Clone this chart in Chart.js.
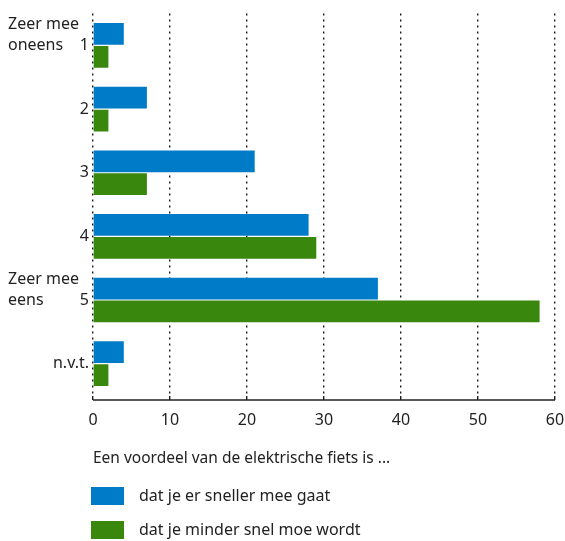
<!DOCTYPE html>
<html>
<head>
<meta charset="utf-8">
<script src="https://cdn.jsdelivr.net/npm/chart.js@4.4.1/dist/chart.umd.min.js"></script>
<style>
    html, body { margin: 0; padding: 0; background: #fff; }
    #wrap { width: 565px; height: 541px; position: relative; }
</style>
</head>
<body>
<div id="wrap"><canvas id="fietsChart"></canvas></div>
<script>
// ============================================
// Data
// ============================================
const categories = ["1", "2", "3", "4", "5", "n.v.t."];
const sideLabels = [["Zeer mee", "oneens"], null, null, null, ["Zeer mee", "eens"], null];
const snellerValues = [4, 7, 21, 28, 37, 4];
const minderMoeValues = [2, 2, 7, 29, 58, 2];
const seriesLabels = ["dat je er sneller mee gaat", "dat je minder snel moe wordt"];
const xTicks = [0, 10, 20, 30, 40, 50, 60];
const axisTitle = "Een voordeel van de elektrische fiets is ...";

const FONT = "'Noto Sans', sans-serif";
const TEXT = "#222";
const TICK_LEN = 4.5;

// --- Plugin: x-as lijn, linker labels (Zeer mee oneens / eens) + legenda ---
const extraText = {
    id: "extraText",
    afterDraw(chart) {
        const ctx = chart.ctx;
        const area = chart.chartArea;
        const yScale = chart.scales.y;
        ctx.save();

        // x-as lijn onder de korte tick-streepjes
        ctx.strokeStyle = "#222";
        ctx.lineWidth = 1.5;
        ctx.beginPath();
        ctx.moveTo(area.left, area.bottom + TICK_LEN);
        ctx.lineTo(area.right, area.bottom + TICK_LEN);
        ctx.stroke();

        ctx.font = "16px " + FONT;
        ctx.fillStyle = TEXT;
        ctx.textAlign = "left";
        ctx.textBaseline = "middle";
        sideLabels.forEach((lines, i) => {
            if (!lines) return;
            const yc = yScale.getPixelForValue(i);
            lines.forEach((t, k) => {
                ctx.fillText(t, 8, yc - (lines.length - 1 - k) * 21);
            });
        });

        // legenda
        chart.data.datasets.forEach((ds, i) => {
            const top = 487 + i * 34;
            ctx.fillStyle = ds.backgroundColor;
            ctx.fillRect(91, top, 33, 18);
            ctx.fillStyle = TEXT;
            ctx.fillText(ds.label, 139, top + 9);
        });
        ctx.restore();
    },
};

new Chart(document.getElementById("fietsChart"), {
    type: "bar",
    data: {
        labels: categories,
        datasets: [
            {
                label: seriesLabels[0],
                data: snellerValues,
                backgroundColor: "#007bc7",
                barPercentage: 0.95,
                categoryPercentage: 0.72,
            },
            {
                label: seriesLabels[1],
                data: minderMoeValues,
                backgroundColor: "#39870c",
                barPercentage: 0.95,
                categoryPercentage: 0.72,
            },
        ],
    },
    options: {
        indexAxis: "y",
        responsive: true,
        maintainAspectRatio: false,
        animation: false,
        layout: { padding: { top: 10.5, right: 0, left: 0, bottom: 69 } },
        plugins: {
            legend: { display: false },
            tooltip: { enabled: false },
        },
        scales: {
            x: {
                min: 0,
                max: 60,
                afterBuildTicks: (scale) => {
                    scale.ticks = xTicks.map((v) => ({ value: v }));
                },
                afterFit: (scale) => {
                    scale.height = 76.5;
                    scale.paddingRight = 10;
                    scale.paddingLeft = 0;
                },
                grid: {
                    color: "#1a1a1a",
                    lineWidth: 1.4,
                    drawTicks: true,
                    tickLength: TICK_LEN,
                },
                border: { display: false, dash: [2, 4] },
                ticks: {
                    color: TEXT,
                    padding: 11,
                    maxRotation: 0,
                    font: { family: FONT, size: 16 },
                },
                title: {
                    display: true,
                    text: axisTitle,
                    align: "start",
                    color: TEXT,
                    padding: { top: 0, bottom: 4 },
                    font: { family: FONT, size: 15.5 },
                },
            },
            y: {
                afterFit: (scale) => {
                    scale.width = 93;
                },
                grid: { display: false, drawTicks: false },
                border: { display: false },
                ticks: {
                    color: TEXT,
                    padding: 4,
                    font: { family: FONT, size: 16 },
                },
            },
        },
    },
    plugins: [extraText],
});
</script>
</body>
</html>
